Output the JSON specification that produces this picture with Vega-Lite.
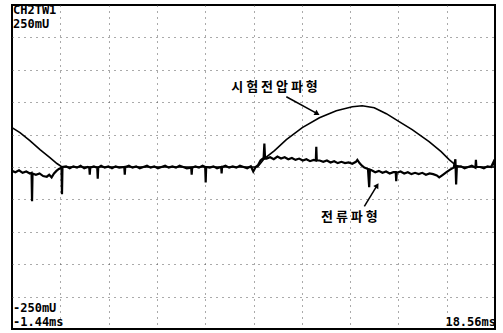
{
  "$schema": "https://vega.github.io/schema/vega-lite/v6.json",
  "width": 483,
  "height": 324,
  "autosize": {"type": "none"},
  "padding": {"left": 12, "top": 5, "right": 8, "bottom": 4},
  "background": "white",
  "config": {
    "view": {"stroke": "black", "strokeWidth": 2},
    "axis": {"labels": false, "ticks": false, "domain": false, "title": null, "grid": true, "gridColor": "#555", "gridDash": [1, 5], "gridWidth": 1, "gridOpacity": 1}
  },
  "datasets": {
    "voltage": [
      {"t": -1.44, "v": 60.8}, {"t": -1.11, "v": 53.1}, {"t": -0.70, "v": 40.8}, {"t": -0.28, "v": 26.9},
      {"t": 0.13, "v": 14.6}, {"t": 0.42, "v": 5.4}, {"t": 0.63, "v": 0}, {"t": 8.73, "v": 0},
      {"t": 9.01, "v": 13.1}, {"t": 9.43, "v": 25.4}, {"t": 9.92, "v": 42.3}, {"t": 10.58, "v": 60.8},
      {"t": 11.29, "v": 76.1}, {"t": 11.99, "v": 86.9}, {"t": 12.65, "v": 93.1}, {"t": 13.06, "v": 94.6},
      {"t": 13.56, "v": 91.5}, {"t": 14.06, "v": 82.3}, {"t": 14.59, "v": 70.0}, {"t": 15.13, "v": 57.7},
      {"t": 15.83, "v": 39.2}, {"t": 16.33, "v": 23.8}, {"t": 16.66, "v": 11.5}, {"t": 16.95, "v": 2.3},
      {"t": 17.2, "v": 0}, {"t": 18.56, "v": 0}
    ],
    "current": [
      {"t": -1.44, "v": -6}, {"t": -1.30, "v": -8}, {"t": -1.15, "v": -5}, {"t": -1.00, "v": -9},
      {"t": -0.85, "v": -7}, {"t": -0.70, "v": -10}, {"t": -0.63, "v": -9}, {"t": -0.61, "v": -53},
      {"t": -0.59, "v": -10}, {"t": -0.45, "v": -12}, {"t": -0.30, "v": -10}, {"t": -0.15, "v": -14},
      {"t": 0.0, "v": -15}, {"t": 0.10, "v": -12}, {"t": 0.20, "v": -16}, {"t": 0.30, "v": -10},
      {"t": 0.40, "v": -6}, {"t": 0.50, "v": -3}, {"t": 0.61, "v": -1}, {"t": 0.63, "v": -42},
      {"t": 0.65, "v": 0}, {"t": 0.80, "v": 1}, {"t": 0.95, "v": -2}, {"t": 1.10, "v": 1},
      {"t": 1.25, "v": -1}, {"t": 1.40, "v": 2}, {"t": 1.55, "v": -2}, {"t": 1.70, "v": 0},
      {"t": 1.76, "v": -1}, {"t": 1.78, "v": -12}, {"t": 1.80, "v": -1}, {"t": 1.95, "v": 1},
      {"t": 2.09, "v": -1}, {"t": 2.11, "v": -18}, {"t": 2.13, "v": -1}, {"t": 2.25, "v": 2},
      {"t": 2.40, "v": -1}, {"t": 2.55, "v": 1}, {"t": 2.70, "v": -2}, {"t": 2.85, "v": 1},
      {"t": 3.00, "v": -1}, {"t": 3.21, "v": 0}, {"t": 3.23, "v": -12}, {"t": 3.25, "v": 0},
      {"t": 3.40, "v": 2}, {"t": 3.55, "v": -1}, {"t": 3.70, "v": 1}, {"t": 3.85, "v": -2},
      {"t": 4.00, "v": 0}, {"t": 4.15, "v": 2}, {"t": 4.30, "v": -1}, {"t": 4.45, "v": 1},
      {"t": 4.60, "v": -2}, {"t": 4.75, "v": 0}, {"t": 4.90, "v": 2}, {"t": 5.05, "v": -1},
      {"t": 5.20, "v": 1}, {"t": 5.35, "v": -1}, {"t": 5.50, "v": 2}, {"t": 5.65, "v": 0},
      {"t": 5.80, "v": -2}, {"t": 5.98, "v": -1}, {"t": 6.00, "v": -12}, {"t": 6.02, "v": -1},
      {"t": 6.15, "v": 1}, {"t": 6.30, "v": -1}, {"t": 6.45, "v": 2}, {"t": 6.56, "v": 0},
      {"t": 6.58, "v": -24}, {"t": 6.60, "v": 0}, {"t": 6.75, "v": -1}, {"t": 6.90, "v": 1},
      {"t": 7.05, "v": -2}, {"t": 7.22, "v": 0}, {"t": 7.24, "v": -10}, {"t": 7.26, "v": 0},
      {"t": 7.40, "v": 2}, {"t": 7.55, "v": -1}, {"t": 7.70, "v": 1}, {"t": 7.85, "v": -1},
      {"t": 8.00, "v": 2}, {"t": 8.15, "v": 0}, {"t": 8.30, "v": -2}, {"t": 8.45, "v": 1},
      {"t": 8.55, "v": -7}, {"t": 8.65, "v": 0}, {"t": 8.75, "v": 3}, {"t": 8.85, "v": 10},
      {"t": 8.98, "v": 14}, {"t": 9.01, "v": 36}, {"t": 9.04, "v": 13}, {"t": 9.10, "v": 13},
      {"t": 9.25, "v": 15}, {"t": 9.40, "v": 12}, {"t": 9.55, "v": 16}, {"t": 9.70, "v": 13},
      {"t": 9.85, "v": 15}, {"t": 10.00, "v": 12}, {"t": 10.15, "v": 14}, {"t": 10.30, "v": 11},
      {"t": 10.45, "v": 13}, {"t": 10.60, "v": 10}, {"t": 10.75, "v": 12}, {"t": 10.90, "v": 9},
      {"t": 11.05, "v": 11}, {"t": 11.14, "v": 10}, {"t": 11.16, "v": 31}, {"t": 11.18, "v": 10},
      {"t": 11.30, "v": 10}, {"t": 11.45, "v": 8}, {"t": 11.60, "v": 10}, {"t": 11.75, "v": 7},
      {"t": 11.90, "v": 9}, {"t": 12.05, "v": 6}, {"t": 12.20, "v": 8}, {"t": 12.35, "v": 6},
      {"t": 12.50, "v": 7}, {"t": 12.65, "v": 5}, {"t": 12.80, "v": 8}, {"t": 12.86, "v": 11},
      {"t": 12.95, "v": 6}, {"t": 13.05, "v": 2}, {"t": 13.15, "v": -1}, {"t": 13.30, "v": -3},
      {"t": 13.35, "v": -31}, {"t": 13.38, "v": -4}, {"t": 13.45, "v": -5}, {"t": 13.60, "v": -8},
      {"t": 13.75, "v": -6}, {"t": 13.90, "v": -9}, {"t": 14.05, "v": -7}, {"t": 14.20, "v": -10},
      {"t": 14.35, "v": -8}, {"t": 14.45, "v": -8}, {"t": 14.47, "v": -22}, {"t": 14.49, "v": -9},
      {"t": 14.65, "v": -7}, {"t": 14.80, "v": -10}, {"t": 14.95, "v": -8}, {"t": 15.10, "v": -11},
      {"t": 15.25, "v": -9}, {"t": 15.40, "v": -11}, {"t": 15.55, "v": -9}, {"t": 15.70, "v": -12},
      {"t": 15.85, "v": -10}, {"t": 16.00, "v": -11}, {"t": 16.15, "v": -13}, {"t": 16.25, "v": -16},
      {"t": 16.40, "v": -12}, {"t": 16.55, "v": -8}, {"t": 16.70, "v": -4}, {"t": 16.85, "v": -1},
      {"t": 16.92, "v": 12}, {"t": 16.95, "v": -27}, {"t": 16.98, "v": 0}, {"t": 17.15, "v": 1},
      {"t": 17.30, "v": -2}, {"t": 17.45, "v": 0}, {"t": 17.60, "v": 2}, {"t": 17.75, "v": -1},
      {"t": 17.77, "v": 11}, {"t": 17.79, "v": 0}, {"t": 17.95, "v": 0}, {"t": 18.10, "v": -2},
      {"t": 18.25, "v": 1}, {"t": 18.40, "v": 0}, {"t": 18.50, "v": 8}, {"t": 18.56, "v": 0}
    ],
    "arrows": [
      {"t": 9.92, "v": 108.4, "t2": 11.20, "v2": 82.3, "angle": 119},
      {"t": 13.15, "v": -60.8, "t2": 13.68, "v2": -28.5, "angle": 32}
    ],
    "notes": [
      {"t": 9.43, "v": 118, "label": "시 험 전 압 파 형"},
      {"t": 12.53, "v": -84, "label": "전 류 파 형"}
    ],
    "leftTexts": [
      {"t": -1.44, "v": 236, "label": "CH2TW1"},
      {"t": -1.44, "v": 214, "label": "250mU"},
      {"t": -1.44, "v": -224, "label": "-250mU"},
      {"t": -1.44, "v": -245, "label": "-1.44ms"}
    ],
    "rightTexts": [
      {"t": 18.56, "v": -245, "label": "18.56ms"}
    ]
  },
  "encoding": {
    "x": {"field": "t", "type": "quantitative", "scale": {"domain": [-1.44, 18.56], "nice": false, "zero": false},
      "axis": {"values": [0.56, 2.56, 4.56, 6.56, 8.56, 10.56, 12.56, 14.56, 16.56]}},
    "y": {"field": "v", "type": "quantitative", "scale": {"domain": [-250, 250], "nice": false, "zero": false},
      "axis": {"values": [-200, -150, -100, -50, 0, 50, 100, 150, 200]}}
  },
  "layer": [
    {"data": {"name": "voltage"}, "mark": {"type": "line", "color": "black", "strokeWidth": 1.6}},
    {"data": {"name": "current"}, "mark": {"type": "line", "color": "black", "strokeWidth": 2.2}},
    {"data": {"name": "arrows"}, "mark": {"type": "rule", "color": "black", "strokeWidth": 1.5},
      "encoding": {"x2": {"field": "t2"}, "y2": {"field": "v2"}}},
    {"data": {"name": "arrows"}, "mark": {"type": "point", "shape": "triangle-up", "filled": true, "color": "black", "size": 35, "opacity": 1},
      "encoding": {"x": {"field": "t2", "type": "quantitative"}, "y": {"field": "v2", "type": "quantitative"}, "angle": {"field": "angle", "type": "quantitative", "scale": null}}},
    {"data": {"name": "notes"}, "mark": {"type": "text", "font": "Noto Sans CJK KR", "fontWeight": "bold", "fontSize": 13, "color": "black", "align": "center", "baseline": "alphabetic"},
      "encoding": {"text": {"field": "label"}}},
    {"data": {"name": "leftTexts"}, "mark": {"type": "text", "font": "DejaVu Sans Mono", "fontWeight": "bold", "fontSize": 12, "color": "black", "align": "left", "baseline": "alphabetic", "dx": 1},
      "encoding": {"text": {"field": "label"}}},
    {"data": {"name": "rightTexts"}, "mark": {"type": "text", "font": "DejaVu Sans Mono", "fontWeight": "bold", "fontSize": 12, "color": "black", "align": "right", "baseline": "alphabetic", "dx": 1},
      "encoding": {"text": {"field": "label"}}}
  ]
}
